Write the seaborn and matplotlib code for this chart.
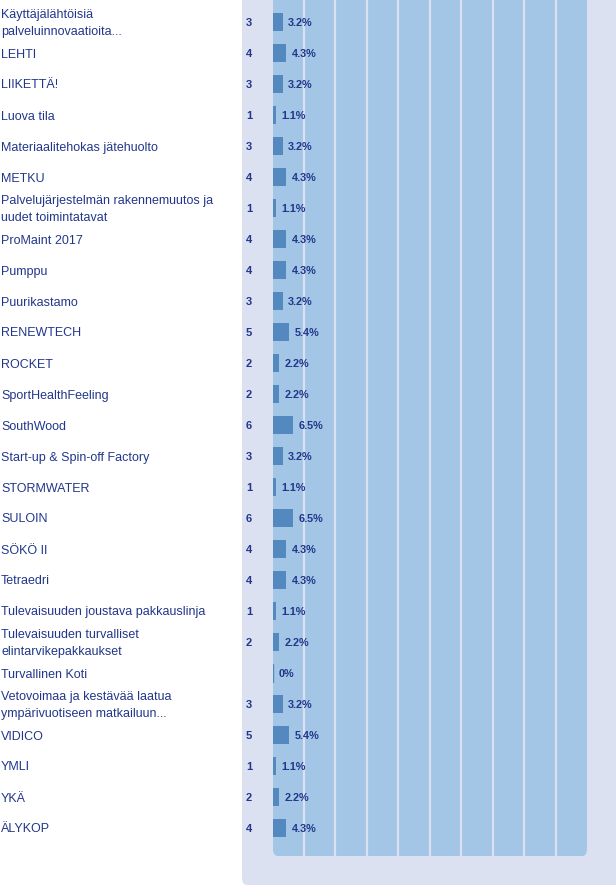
import numpy as np
import pandas as pd
import matplotlib
matplotlib.use("Agg")
import matplotlib.pyplot as plt
from matplotlib.patches import FancyBboxPatch
import seaborn as sns

LABELS = [
    "Käyttäjälähtöisiä\npalveluinnovaatioita...",
    "LEHTI",
    "LIIKETTÄ!",
    "Luova tila",
    "Materiaalitehokas jätehuolto",
    "METKU",
    "Palvelujärjestelmän rakennemuutos ja\nuudet toimintatavat",
    "ProMaint 2017",
    "Pumppu",
    "Puurikastamo",
    "RENEWTECH",
    "ROCKET",
    "SportHealthFeeling",
    "SouthWood",
    "Start-up & Spin-off Factory",
    "STORMWATER",
    "SULOIN",
    "SÖKÖ II",
    "Tetraedri",
    "Tulevaisuuden joustava pakkauslinja",
    "Tulevaisuuden turvalliset\nelintarvikepakkaukset",
    "Turvallinen Koti",
    "Vetovoimaa ja kestävää laatua\nympärivuotiseen matkailuun...",
    "VIDICO",
    "YMLI",
    "YKÄ",
    "ÄLYKOP",
]
COUNTS = [3, 4, 3, 1, 3, 4, 1, 4, 4, 3, 5, 2, 2, 6, 3, 1, 6, 4, 4, 1, 2, 0, 3, 5, 1, 2, 4]
PERCENTS = [3.2, 4.3, 3.2, 1.1, 3.2, 4.3, 1.1, 4.3, 4.3, 3.2, 5.4, 2.2, 2.2, 6.5, 3.2,
            1.1, 6.5, 4.3, 4.3, 1.1, 2.2, 0.0, 3.2, 5.4, 1.1, 2.2, 4.3]
PCT_TEXT = ["3.2%", "4.3%", "3.2%", "1.1%", "3.2%", "4.3%", "1.1%", "4.3%", "4.3%", "3.2%",
            "5.4%", "2.2%", "2.2%", "6.5%", "3.2%", "1.1%", "6.5%", "4.3%", "4.3%", "1.1%",
            "2.2%", "0%", "3.2%", "5.4%", "1.1%", "2.2%", "4.3%"]

W, H = 616, 890
PANEL = "#dbe1f1"
AREA = "#a3c6e7"
BAR = "#5389be"
TEXT = "#22378a"

df = pd.DataFrame({"label": LABELS, "pct": PERCENTS})

sns.set_theme(style="white")
plt.rcParams["font.family"] = ["Liberation Sans", "DejaVu Sans"]

fig = plt.figure(figsize=(W / 100, H / 100), dpi=100)
fig.patch.set_facecolor("white")


def fx(px):
    return px / W


def fy(py):
    return 1 - py / H


# outer light panel
fig.patches.append(FancyBboxPatch((fx(242), fy(885)), fx(616 - 242) + 0.02, (885 + 10) / H,
                                  boxstyle="round,pad=0,rounding_size=0.008",
                                  transform=fig.transFigure, facecolor=PANEL,
                                  edgecolor="none", zorder=-2))
# bar area
fig.patches.append(FancyBboxPatch((fx(273), fy(856)), fx(587 - 273), (856 + 10) / H,
                                  boxstyle="round,pad=0,rounding_size=0.008",
                                  transform=fig.transFigure, facecolor=AREA,
                                  edgecolor="none", zorder=-1))

row0, step = 22, 31.0
n = len(LABELS)
ax = fig.add_axes([fx(272.5), fy(856), fx(587 - 272.5), 856 / H])
ax.set_zorder(2)
ax.set_facecolor("none")
sns.barplot(data=df, x="pct", y="label", orient="h", color=BAR, width=0.61,
            saturation=1, linewidth=0, ax=ax, zorder=3)
ax.set_xlim(0, 100)
ax.set_ylim(n - 1 + (856 - (row0 + step * (n - 1))) / step, -row0 / step)
for v in range(10, 100, 10):
    ax.axvline(v, color=PANEL, lw=1.6, zorder=1)
ax.axis("off")

for i, (lab, c, p, t) in enumerate(zip(LABELS, COUNTS, PERCENTS, PCT_TEXT)):
    if p == 0:
        ax.plot([0.15, 0.15], [i - 0.3, i + 0.3], color=BAR, lw=1, zorder=3)
    ax.text(p + 1.8, i + 0.04, t, va="center", ha="left", fontsize=7.8,
            fontweight="bold", color=TEXT, zorder=4)
    ypix = row0 + step * i + 1.5
    fig.text(fx(1), fy(ypix), lab, va="center", ha="left", fontsize=9.0,
             color=TEXT, linespacing=1.55)
    if c > 0:
        fig.text(fx(246), fy(ypix - 0.5), str(c), va="center", ha="left", fontsize=8,
                 fontweight="bold", color=TEXT)

fig.savefig("out.png", dpi=100, facecolor="white")
